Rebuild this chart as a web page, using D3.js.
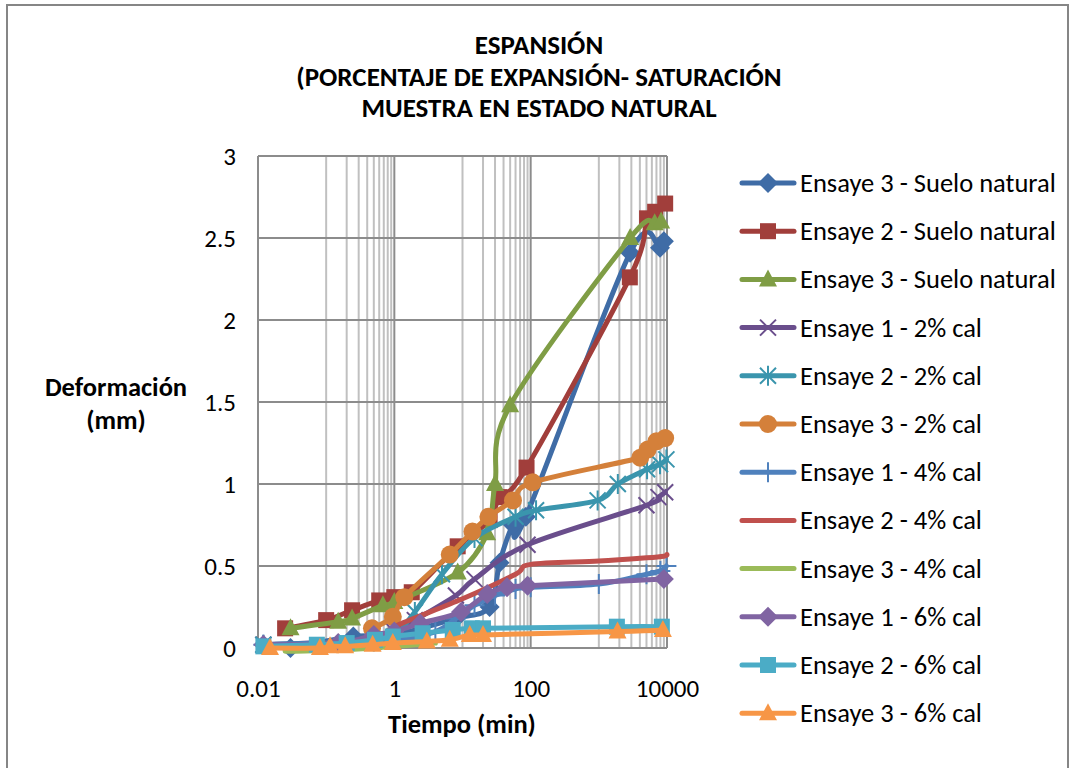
<!DOCTYPE html>
<html>
<head>
<meta charset="utf-8">
<script src="https://cdn.jsdelivr.net/npm/d3@7"></script>
<style>
  body { margin: 0; background: #fff; }
  text { font-family: Carlito, Lato, "Noto Sans", sans-serif; fill: #000; }
</style>
</head>
<body>
<div id="chart"></div>
<script>

// Tick values / labels
var xTickValues = [0.01, 1, 100, 10000];
var xTickLabels = ["0.01", "1", "100", "10000"];
var yTickValues = [0, 0.5, 1, 1.5, 2, 2.5, 3];
var yTickLabels = ["0", "0.5", "1", "1.5", "2", "2.5", "3"];

var titleLines = ["ESPANSIÓN", "(PORCENTAJE DE EXPANSIÓN- SATURACIÓN", "MUESTRA EN ESTADO NATURAL"];

var seriesNames = [
    "Ensaye 3 - Suelo natural", "Ensaye 2 - Suelo natural", "Ensaye 3 - Suelo natural",
    "Ensaye 1 - 2% cal", "Ensaye 2 - 2% cal", "Ensaye 3 - 2% cal",
    "Ensaye 1 - 4% cal", "Ensaye 2 - 4% cal", "Ensaye 3 - 4% cal",
    "Ensaye 1 - 6% cal", "Ensaye 2 - 6% cal", "Ensaye 3 - 6% cal"
];

// time (min) / deformation (mm)
var timeS1 = [0.03, 0.25, 1, 8, 25, 35, 55, 85, 2880, 7900, 9000];
var defS1  = [0.0, 0.07, 0.08, 0.18, 0.25, 0.52, 0.75, 0.8, 2.41, 2.44, 2.48];

var timeS2 = [0.025, 0.1, 0.24, 0.6, 1, 1.8, 8.5, 25, 35, 87, 2850, 5100, 6700, 9400];
var defS2  = [0.12, 0.17, 0.23, 0.29, 0.31, 0.34, 0.62, 0.78, 0.92, 1.1, 2.26, 2.62, 2.66, 2.71];

var timeS3 = [0.03, 0.15, 0.24, 0.68, 1, 8.5, 23, 30, 50, 2880, 6600, 8200];
var defS3  = [0.12, 0.16, 0.18, 0.26, 0.28, 0.46, 0.7, 1.0, 1.48, 2.5, 2.59, 2.6];

var timeS4 = [0.012, 0.5, 1, 2, 8, 15, 90, 5000, 7500, 9400];
var defS4  = [0.02, 0.05, 0.1, 0.17, 0.32, 0.42, 0.63, 0.87, 0.92, 0.95];

var timeS5 = [0.012, 0.5, 1, 2, 5, 15, 60, 120, 960, 1900, 5100, 7900, 9800];
var defS5  = [0.02, 0.04, 0.07, 0.22, 0.45, 0.67, 0.8, 0.84, 0.9, 1.0, 1.09, 1.12, 1.15];

var timeS6 = [0.47, 0.95, 1.4, 6.5, 14, 24, 55, 107, 4040, 5200, 7000, 9400];
var defS6  = [0.12, 0.19, 0.31, 0.57, 0.71, 0.8, 0.9, 1.01, 1.16, 1.21, 1.26, 1.28];

var timeS7 = [0.012, 1, 4, 8, 15, 30, 60, 100, 1000, 5000, 8000, 9800];
var defS7  = [0.02, 0.05, 0.1, 0.18, 0.26, 0.32, 0.36, 0.37, 0.39, 0.45, 0.47, 0.5];

var timeS8 = [0.012, 0.5, 1, 10, 60, 100, 1000, 5000, 9000, 10000];
var defS8  = [0.01, 0.05, 0.13, 0.3, 0.45, 0.51, 0.53, 0.55, 0.56, 0.57];

var timeS9 = [0.025, 0.2, 1, 4];
var defS9  = [-0.02, -0.01, 0.01, 0.03];

var timeS10 = [0.012, 0.15, 0.5, 1, 2.4, 9.5, 23, 45, 90, 9000];
var defS10  = [0.02, 0.03, 0.08, 0.1, 0.15, 0.22, 0.33, 0.37, 0.38, 0.42];

var timeS11 = [0.012, 0.073, 0.2, 0.52, 0.95, 2.6, 7.2, 13.7, 20, 1840, 8400];
var defS11  = [0.01, 0.02, 0.03, 0.05, 0.07, 0.09, 0.11, 0.12, 0.12, 0.13, 0.13];

var timeS12 = [0.015, 0.081, 0.114, 0.19, 0.48, 0.95, 3.0, 6.5, 12.8, 20, 1880, 8700];
var defS12  = [0.0, 0.0, 0.01, 0.01, 0.02, 0.03, 0.04, 0.05, 0.08, 0.08, 0.1, 0.11];

var seriesTimes = [timeS1, timeS2, timeS3, timeS4, timeS5, timeS6, timeS7, timeS8, timeS9, timeS10, timeS11, timeS12];
var seriesDefs  = [defS1, defS2, defS3, defS4, defS5, defS6, defS7, defS8, defS9, defS10, defS11, defS12];

var seriesColors = ["#3F6CA6", "#A13E3B", "#7F9D45", "#6A4E8C", "#3A95AD", "#D4803A",
                    "#4F81BD", "#C0504D", "#9BBB59", "#8064A2", "#4BACC6", "#F79646"];
var seriesMarkers = ["diamond", "square", "triangle", "x", "star", "circle",
                     "plus", "none", "none", "diamond", "square", "triangle"];


ExpansionChart = function(_parentElement){
    this.parentElement = _parentElement;
    this.initVis();
}

ExpansionChart.prototype.initVis = function(){
    var vis = this;

    vis.width = 1076;
    vis.height = 768;

    vis.svg = d3.select("#" + vis.parentElement).append("svg")
        .attr("width", vis.width)
        .attr("height", vis.height);

    vis.svg.append("rect")
        .attr("width", vis.width).attr("height", vis.height)
        .attr("fill", "#fff");

    // chart border (left / top / right)
    vis.svg.append("path")
        .attr("d", "M7,790 L7,5 L1068,5 L1068,790")
        .attr("fill", "none")
        .attr("stroke", "#868686")
        .attr("stroke-width", 2);

    // scales
    vis.x = d3.scaleLog().domain([0.01, 10000]).range([258, 667]);
    vis.y = d3.scaleLinear().domain([0, 3]).range([648, 156]);

    // gridlines
    var minor = [];
    [0.01, 1, 100].forEach(function(m){
        d3.range(1, 10).forEach(function(k){ minor.push(m * 10 * k); });
    });

    vis.svg.append("g").selectAll("line.minor")
        .data(minor)
        .enter().append("line")
        .attr("x1", function(d){ return vis.x(d); })
        .attr("x2", function(d){ return vis.x(d); })
        .attr("y1", vis.y(3)).attr("y2", vis.y(0))
        .attr("stroke", "#c0c0c0")
        .attr("stroke-width", 2);

    vis.svg.append("g").selectAll("line.hgrid")
        .data(yTickValues)
        .enter().append("line")
        .attr("x1", vis.x(0.01)).attr("x2", vis.x(10000))
        .attr("y1", function(d){ return vis.y(d); })
        .attr("y2", function(d){ return vis.y(d); })
        .attr("stroke", "#8c8c8c")
        .attr("stroke-width", 2);

    vis.svg.append("g").selectAll("line.vgrid")
        .data(xTickValues)
        .enter().append("line")
        .attr("x1", function(d){ return vis.x(d); })
        .attr("x2", function(d){ return vis.x(d); })
        .attr("y1", vis.y(3)).attr("y2", vis.y(0))
        .attr("stroke", "#8c8c8c")
        .attr("stroke-width", 2);

    // axes
    vis.xAxis = d3.axisBottom(vis.x)
        .tickValues(xTickValues)
        .tickFormat(function(d, i){ return xTickLabels[i]; })
        .tickSize(0).tickPadding(31);

    vis.yAxis = d3.axisLeft(vis.y)
        .tickValues(yTickValues)
        .tickFormat(function(d, i){ return yTickLabels[i]; })
        .tickSize(0).tickPadding(22);

    var gx = vis.svg.append("g")
        .attr("class", "x-axis axis")
        .attr("transform", "translate(0," + vis.y(0) + ")")
        .call(vis.xAxis);
    var gy = vis.svg.append("g")
        .attr("class", "y-axis axis")
        .attr("transform", "translate(" + vis.x(0.01) + ",0)")
        .call(vis.yAxis);

    [gx, gy].forEach(function(g){
        g.select(".domain").remove();
        g.selectAll("text")
            .style("font-family", "Carlito, Lato, sans-serif")
            .style("font-size", "25px")
            .attr("fill", "#000");
    });

    // titles
    vis.svg.append("g").selectAll("text")
        .data(titleLines)
        .enter().append("text")
        .attr("x", 539)
        .attr("y", function(d, i){ return 54 + i * 31.5; })
        .attr("text-anchor", "middle")
        .style("font-size", "27px")
        .style("font-weight", "bold")
        .text(function(d){ return d; });

    vis.svg.append("text")
        .attr("x", 462).attr("y", 733)
        .attr("text-anchor", "middle")
        .style("font-size", "26.5px").style("font-weight", "bold")
        .text("Tiempo (min)");

    vis.svg.append("text")
        .attr("x", 116).attr("y", 396)
        .attr("text-anchor", "middle")
        .style("font-size", "26.5px").style("font-weight", "bold")
        .text("Deformación");
    vis.svg.append("text")
        .attr("x", 116).attr("y", 429)
        .attr("text-anchor", "middle")
        .style("font-size", "26.5px").style("font-weight", "bold")
        .text("(mm)");

    // smoothed lines (uniform Catmull-Rom, close to the spreadsheet smoothing)
    vis.line = d3.line()
        .x(function(d){ return vis.x(d.t); })
        .y(function(d){ return vis.y(d.v); })
        .curve(d3.curveCatmullRom.alpha(0));

    vis.wrangleData();
}

ExpansionChart.prototype.wrangleData = function(){
    var vis = this;

    vis.displayData = seriesNames.map(function(name, i){
        return {
            name: name,
            color: seriesColors[i],
            marker: seriesMarkers[i],
            values: seriesTimes[i].map(function(t, j){ return { t: t, v: seriesDefs[i][j] }; })
        };
    });

    vis.updateVis();
}

ExpansionChart.prototype.drawMarker = function(g, type, color){
    if (type === "diamond") {
        g.append("path").attr("d", "M0,-10L10,0L0,10L-10,0Z").attr("fill", color);
    } else if (type === "square") {
        g.append("rect").attr("x", -8).attr("y", -8).attr("width", 16).attr("height", 16).attr("fill", color);
    } else if (type === "triangle") {
        g.append("path").attr("d", "M0,-10L9,7L-9,7Z").attr("fill", color);
    } else if (type === "circle") {
        g.append("circle").attr("r", 9).attr("fill", color);
    } else if (type === "x") {
        g.append("path").attr("d", "M-8,-8L8,8M-8,8L8,-8")
            .attr("stroke", color).attr("stroke-width", 2).attr("fill", "none");
    } else if (type === "star") {
        g.append("path").attr("d", "M-8,-8L8,8M-8,8L8,-8M0,-10L0,10")
            .attr("stroke", color).attr("stroke-width", 2).attr("fill", "none");
    } else if (type === "plus") {
        g.append("path").attr("d", "M0,-10L0,10M-10,0L10,0")
            .attr("stroke", color).attr("stroke-width", 2).attr("fill", "none");
    }
}

ExpansionChart.prototype.updateVis = function(){
    var vis = this;

    var series = vis.svg.append("g").selectAll(".series")
        .data(vis.displayData)
        .enter().append("g")
        .attr("class", "series");

    series.append("path")
        .attr("d", function(d){ return vis.line(d.values); })
        .attr("fill", "none")
        .attr("stroke", function(d){ return d.color; })
        .attr("stroke-width", 5)
        .attr("stroke-linejoin", "round")
        .attr("stroke-linecap", "round");

    series.each(function(d){
        if (d.marker === "none") return;
        var s = d3.select(this);
        d.values.forEach(function(p){
            var g = s.append("g")
                .attr("transform", "translate(" + vis.x(p.t) + "," + vis.y(p.v) + ")");
            vis.drawMarker(g, d.marker, d.color);
        });
    });

    // legend
    var legend = vis.svg.append("g").selectAll(".legend")
        .data(vis.displayData)
        .enter().append("g")
        .attr("class", "legend")
        .attr("transform", function(d, i){ return "translate(740," + (183 + i * 48.2) + ")"; });

    legend.append("line")
        .attr("x1", 2).attr("x2", 54)
        .attr("stroke", function(d){ return d.color; })
        .attr("stroke-width", 5)
        .attr("stroke-linecap", "round");

    legend.each(function(d){
        if (d.marker === "none") return;
        var g = d3.select(this).append("g").attr("transform", "translate(28,0)");
        vis.drawMarker(g, d.marker, d.color);
    });

    legend.append("text")
        .attr("x", 60).attr("y", 9)
        .style("font-size", "26.5px")
        .text(function(d){ return d.name; });
}

var chart = new ExpansionChart("chart");

</script>
</body>
</html>
